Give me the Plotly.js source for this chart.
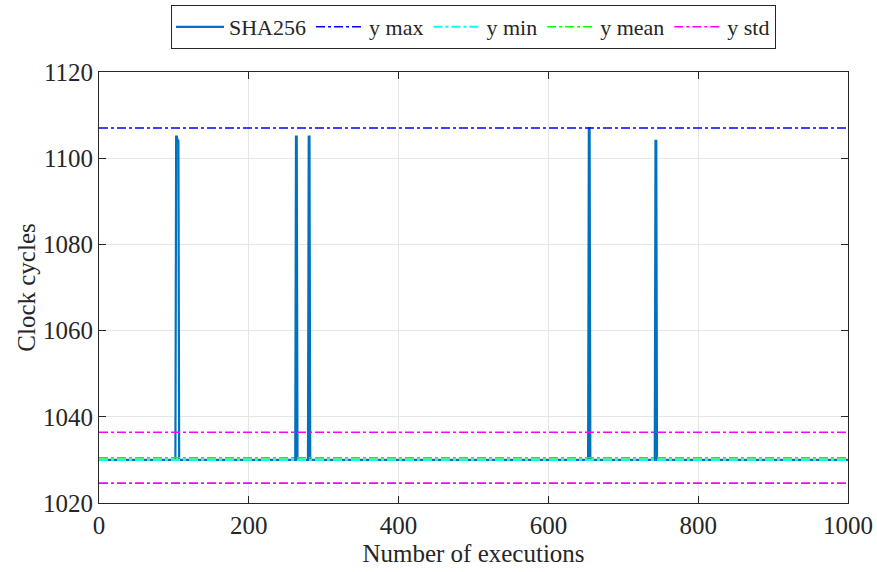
<!DOCTYPE html>
<html>
<head>
<meta charset="utf-8">
<script src="https://cdn.plot.ly/plotly-3.0.1.min.js"></script>
<style>html,body{margin:0;padding:0;background:#fff;}#chart{width:877px;height:572px;}</style>
</head>
<body>
<div id="chart"></div>
<script>
// Vertices of the SHA256 trace (execution index, clock cycles)
const execIdx = [1, 102, 103, 104, 105, 106, 107, 262, 263, 264, 265, 279, 280, 281, 282, 653, 654, 655, 656, 742, 743, 744, 745, 1000];
const cycles  = [1030, 1030, 1105, 1105, 1104, 1104, 1030, 1030, 1105, 1105, 1030, 1030, 1105, 1105, 1030, 1030, 1107, 1107, 1030, 1030, 1104, 1104, 1030, 1030];
const xRange = [0, 1000];
const yMax = 1107;
const yMin = 1030;
const yMean = 1030.5;
const yStd = 5.9;
const seriesNames = ["SHA256", "y max", "y min", "y mean", "y std"];
const xTicks = [0, 200, 400, 600, 800, 1000];
const yTicks = [1020, 1040, 1060, 1080, 1100, 1120];

const font = "'Liberation Serif', 'Times New Roman', Times, serif";
const hl = (v, name, color, show, w) => ({
  x: xRange, y: [v, v], mode: "lines", name: name, showlegend: show, legendgroup: name,
  line: {color: color, width: w || 1.6, dash: "dashdot"}, hoverinfo: "skip"
});

const traces = [
  {x: execIdx, y: cycles, mode: "lines", name: seriesNames[0], line: {color: "#0072BD", width: 2.2}},
  hl(yMax, seriesNames[1], "#0000FF", true),
  hl(yMin, seriesNames[2], "#00FFFF", true, 2),
  hl(yMean, seriesNames[3], "#00FF00", true),
  hl(yMean + yStd, seriesNames[4], "#FF00FF", true),
  hl(yMean - yStd, seriesNames[4], "#FF00FF", false)
];

const axisCommon = {
  showline: true, linecolor: "#262626", linewidth: 1, mirror: "allticks",
  ticks: "inside", ticklen: 7, tickcolor: "#262626",
  showgrid: true, gridcolor: "#e6e6e6", gridwidth: 1, zeroline: false,
  automargin: false,
  tickfont: {family: font, size: 25, color: "#262626"}
};

const layout = {
  width: 877, height: 572,
  margin: {l: 99, r: 29, t: 72, b: 69},
  paper_bgcolor: "#fff", plot_bgcolor: "#fff",
  font: {family: font, color: "#262626"},
  xaxis: Object.assign({}, axisCommon, {
    range: xRange, tickvals: xTicks, ticktext: xTicks.map(String),
    title: {text: "Number of executions", font: {family: font, size: 25, color: "#262626"}, standoff: 6}
  }),
  yaxis: Object.assign({}, axisCommon, {
    range: [1020, 1120], tickvals: yTicks, ticktext: yTicks.map(String),
    title: {text: "Clock cycles", font: {family: font, size: 25, color: "#262626"}, standoff: 0}
  }),
  legend: {
    orientation: "h", x: 0.5, xanchor: "center", xref: "paper",
    y: 1 - 5 / 572, yanchor: "top", yref: "container",
    bordercolor: "#262626", borderwidth: 1, bgcolor: "#fff",
    font: {family: font, size: 22, color: "#262626"},
    itemwidth: 48, tracegroupgap: 0
  },
  showlegend: true
};

Plotly.newPlot("chart", traces, layout, {displayModeBar: false, staticPlot: true});
</script>
</body>
</html>
